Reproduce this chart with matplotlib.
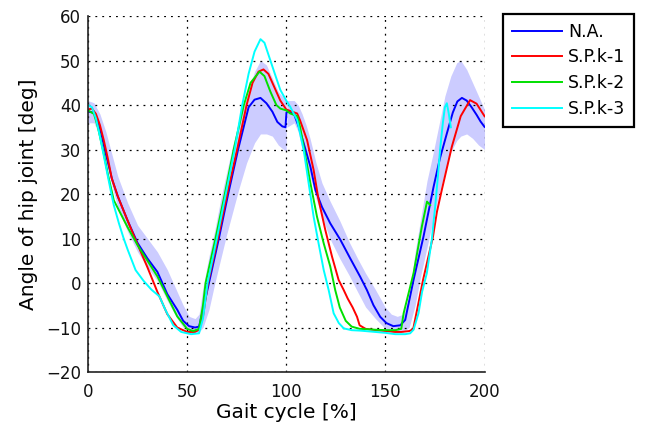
import matplotlib
matplotlib.use('Agg')
import matplotlib.pyplot as plt

# N.A. (mean curve, two gait cycles)
na_x = [0, 3, 5, 7, 9, 12, 15, 20, 25, 30, 35, 40, 45, 48, 51, 54, 56, 58, 61, 66, 70.7, 75.7,
        81, 84, 87, 90, 93, 95.5, 98, 99.6,
        100.1, 101, 103.8, 106.3, 108.8, 112.2, 114.7, 118, 122.2, 127.3, 132.3, 137.3, 140.7,
        144, 147.4, 150.5, 154, 157.5, 160, 162, 164.2, 169.2, 174.3, 177.5, 181, 184, 186.3,
        188.6, 191, 193.5, 196, 198, 200]
na_y = [38.5, 38.3, 36.5, 33, 29, 23.5, 19.5, 14, 9, 5.5, 2.5, -2.5, -6, -8.5, -9.7, -10, -9.8, -6,
        0, 10, 20, 30, 39.5, 41.2, 41.6, 40.4, 38.5, 36.2, 35.2, 35,
        38.3, 38.5, 38.1, 35.1, 31.4, 26.1, 20.9, 17.1, 13.4, 9.7, 5.5, 1.4, -1.6,
        -5, -7.6, -9, -9.7, -9.5, -8.3, -4, 0.7, 10.4, 21.6, 28, 33.6, 38.3, 40.8,
        41.6, 41, 39.5, 37.8, 36.3, 35.1]

# S.P.k-1
k1_x = [0, 2, 4, 6, 8, 10, 12, 15, 20, 24, 30, 35, 40, 45, 50, 54, 56, 58, 60.5, 65.5, 70.2,
        75.2, 80, 83, 86, 88.5, 91, 94, 97, 100, 103, 105.5, 107, 110.5, 113.8, 116.3, 119.7,
        123.1, 126.4, 129, 131, 133.5, 135.7, 137, 140, 145, 150, 155, 158, 162, 164, 166, 169,
        174, 176, 178.5, 183.5, 188, 192.7, 196, 200]
k1_y = [39, 39.2, 38, 35.5, 32, 28, 23.5, 19.5, 14, 9.7, 3.5, -2, -7, -10, -11, -11, -10.5,
        -7.5, 0, 10, 20, 30, 40, 45, 47.5, 48, 47, 44, 41, 39, 38.5, 38.1, 36.5, 32.1, 25.4,
        18.7, 11.9, 5.9, 0.7, -1.6, -3.5, -5.5, -7.6, -9.5, -10.3, -10.6, -10.8, -11, -11,
        -10.8, -10.4, -6, 0.7, 10.4, 16, 21, 30.6, 37.5, 41.1, 40.3, 37.5]

# S.P.k-2
k2_x = [0, 3, 5, 8, 10, 13, 20, 25, 30, 35, 40, 45, 50, 53, 56, 58, 59.3, 64.3, 69, 73.5, 78.6,
        82, 86.5, 89, 92, 95, 97, 100, 102, 105.5, 107, 108.8, 112.2, 115.5, 118.9, 122.2,
        124.7, 127, 130, 133, 137, 145, 150, 155, 158, 159.2, 164.2, 168.4, 171, 172.6]
k2_y = [38.8, 38, 35, 29, 24.5, 18.6, 12.5, 8.5, 5, 1.5, -3, -7.5, -10.3, -10.8, -10.3, -5, 0,
        10, 20, 30, 40, 45, 47.5, 46.5, 43, 40, 39.2, 38.8, 38.1, 37.5, 35, 30.6, 22.4, 14.9,
        8.9, 3.7, -1.6, -5.5, -8.5, -9.8, -10.3, -10.5, -10.6, -10.6, -10.3, -6.8, 2.2, 12.7,
        18.3, 17.5]

# S.P.k-3
k3_x = [0, 2, 4, 6, 8, 10, 11.4, 13, 15.6, 18, 20, 24, 28, 32, 36, 39, 43, 47, 52, 56, 58,
        60.3, 65, 69.5, 74, 77.8, 81, 84, 87, 89, 92, 95, 97, 100, 102, 105.5, 108.8, 111.3,
        113.8, 116.3, 118.9, 121.4, 123.9, 126.5, 129, 133, 137.3, 145, 150, 155, 160, 162.5,
        164.2, 166.7, 168.5, 170.9, 173.4, 175.1, 176.5, 177.6, 179, 180, 181, 182, 183]
k3_y = [40, 39.5, 37, 33, 28.5, 24, 20.9, 17.5, 13.4, 10, 7.5, 2.9, 0.5, -1.5, -3, -6, -9.5,
        -11, -11.5, -11.3, -8, 0, 10, 20, 30, 40, 47, 52, 54.8, 54, 50, 46, 43.4, 41, 39.6,
        36.6, 29.9, 22.4, 14.9, 8.9, 2.9, -1.6, -6.8, -9, -10.2, -10.6, -10.7, -11, -11.2,
        -11.5, -11.5, -11.3, -10.5, -6.8, -2, 2.2, 9.7, 17.1, 24, 30, 36, 39.5, 40.4, 38, 35]

# shaded band (N.A. spread), cycle 1 and cycle 2
band1_x = [0, 3, 6, 9, 12, 15, 20, 25, 30, 35, 40, 45, 48, 51, 54, 56, 58, 61, 64, 67, 70, 73,
           76, 80, 84, 87, 90, 93, 96, 100]
band1_hi = [41, 40.5, 38, 34, 29, 24, 18, 13, 10, 7, 3, -2, -5, -7.5, -8, -7, -1, 6, 12, 19, 25,
            31, 36, 42, 47.5, 50, 49, 46, 43, 41]
band1_lo = [36, 36, 33, 28, 22, 17, 11.5, 7, 3.5, 0.5, -4, -8, -10, -11, -11, -11, -10, -6, 0,
            5.5, 11, 16, 21, 27, 31.5, 33.5, 33.5, 33, 31, 29.5]
band2_x = [100.3, 104, 106, 108, 110, 112, 115, 118, 122, 127, 132, 136, 140, 145, 150, 153,
           156, 159, 162, 165, 168, 171, 174, 177, 180, 183, 186, 188, 191, 194, 197, 200]
band2_hi = [41, 41, 40, 38, 35.5, 32.5, 27, 22.5, 18.5, 14, 9, 5.5, 2.2, -1.5, -5.5, -7, -7.5,
            -7, -3, 7, 15, 23, 29, 35.5, 42, 46.5, 49.5, 50, 48, 45, 42, 39]
band2_lo = [35, 36, 34, 30, 27, 24, 19, 15, 10, 5.5, 1.5, -2, -5.4, -8, -10.3, -11, -11, -11,
            -10, -5, 2, 8, 14, 20, 25, 29.5, 32, 33, 33.5, 32.5, 31, 30]

labels = ['N.A.', 'S.P.k-1', 'S.P.k-2', 'S.P.k-3']
colors = ['#0000ff', '#ff0000', '#00e000', '#00ffff']

fig = plt.figure(figsize=(6.5, 4.25), dpi=100)
ax = fig.add_axes([0.1354, 0.1247, 0.61, 0.8376])

ax.fill_between(band1_x, band1_lo, band1_hi, color='#0000ff', alpha=0.2, lw=0)
ax.fill_between(band2_x, band2_lo, band2_hi, color='#0000ff', alpha=0.2, lw=0)

series = [(na_x, na_y), (k1_x, k1_y), (k2_x, k2_y), (k3_x, k3_y)]
for (xs, ys), lab, c in zip(series, labels, colors):
    ax.plot(xs, ys, color=c, lw=1.4, label=lab)

ax.set_xlim(0, 200)
ax.set_ylim(-20, 60)
ax.set_xticks([0, 50, 100, 150, 200])
ax.set_yticks(range(-20, 61, 10))
ax.grid(True, linestyle=(0, (1.5, 4)), color='black', lw=0.9)
ax.spines['top'].set_visible(False)
ax.spines['right'].set_visible(False)
for s in ['left', 'bottom']:
    ax.spines[s].set_linewidth(1.2)
    ax.spines[s].set_color('#222222')
ax.tick_params(direction='in', length=0, labelsize=12, colors='#111111')
ax.tick_params(axis='x', pad=8)
ax.tick_params(axis='y', pad=5)

ax.set_xlabel('Gait cycle [%]', fontsize=14.5, labelpad=1)
ax.set_ylabel('Angle of hip joint [deg]', fontsize=14.5, labelpad=6)

leg = ax.legend(loc='upper left', bbox_to_anchor=(503 / 650, 1 - 14 / 425),
                bbox_transform=fig.transFigure, borderaxespad=0, fontsize=12.5,
                fancybox=False, framealpha=1, edgecolor='black',
                handlelength=2.9, handletextpad=0.35, labelspacing=0.45, borderpad=0.5)
leg.get_frame().set_linewidth(1.6)

fig.savefig('out.png', dpi=100)
